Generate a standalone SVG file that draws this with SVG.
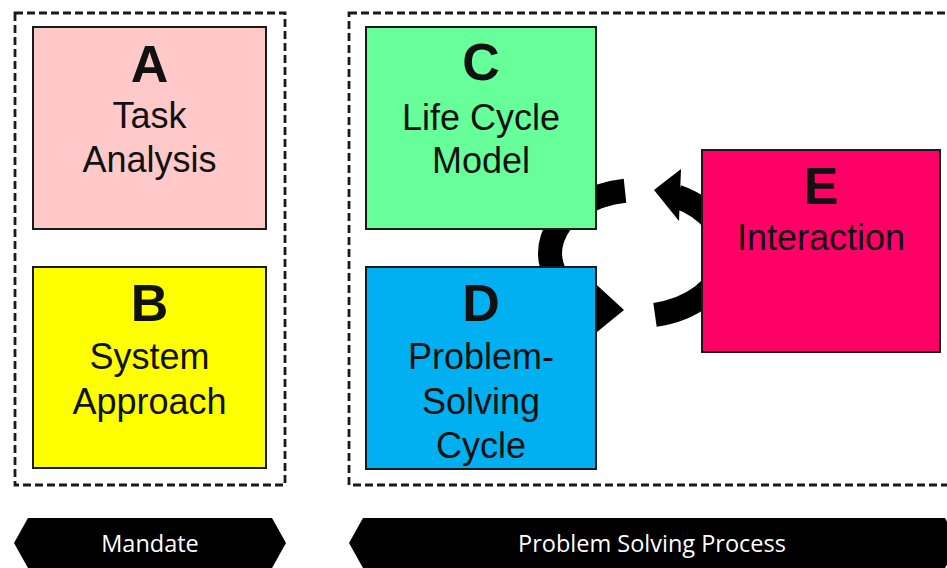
<svg xmlns="http://www.w3.org/2000/svg" width="947" height="568" viewBox="0 0 947 568">
  <style>
    .group-frame { fill: none; stroke: #1a1a1a; stroke-width: 2.8; stroke-dasharray: 8 4; }
    .box { stroke: #1a1a1a; stroke-width: 2; }
    .letter { font-family: "Liberation Sans", Arial, sans-serif; font-weight: bold; font-size: 52px; fill: #111; text-anchor: middle; }
    .label { font-family: "Liberation Sans", Arial, sans-serif; font-size: 36px; fill: #111; text-anchor: middle; }
    .band { fill: #000; }
    .band-text { font-family: "Open Sans", "Noto Sans", sans-serif; font-size: 23.5px; fill: #fff; text-anchor: middle; }
    .cycle { fill: none; stroke: #000; stroke-width: 24; stroke-linecap: butt; }
    .head { fill: #000; }
  </style>

  <rect width="947" height="568" fill="#fff"/>

  <!-- dashed grouping frames -->
  <g id="frame-mandate">
    <rect class="group-frame" x="15" y="13" width="270" height="472"/>
  </g>
  <g id="frame-process">
    <rect class="group-frame" x="349" y="13" width="610" height="472"/>
  </g>

  <!-- cyclic arrows between C, D and E (drawn under the boxes) -->
  <g id="connectors">
    <!-- E back up to C: arc round the right side, head pointing left -->
    <path class="cycle" d="M 655 314.8 A 88 63 0 0 0 677 196.5"/>
    <polygon class="head" points="654,190 681,169 679,221"/>
    <!-- C down to D and on towards E: arc round the left side, head pointing right -->
    <path class="cycle" d="M 625 190.7 A 88 63 0 0 0 588 304.8"/>
    <polygon class="head" points="624,310 586,275 586,341"/>
  </g>

  <g id="node-a">
    <rect class="box" x="33" y="27" width="233" height="202" fill="#ffc9c9"/>
    <text class="letter" x="149.5" y="82">A</text>
    <text class="label" x="149.5" y="128">Task</text>
    <text class="label" x="149.5" y="172">Analysis</text>
  </g>

  <g id="node-b">
    <rect class="box" x="33" y="267" width="233" height="201" fill="#ffff00"/>
    <text class="letter" x="149.5" y="321">B</text>
    <text class="label" x="149.5" y="369">System</text>
    <text class="label" x="149.5" y="414">Approach</text>
  </g>

  <g id="node-c">
    <rect class="box" x="366" y="27" width="230" height="202" fill="#66ff99"/>
    <text class="letter" x="481" y="80">C</text>
    <text class="label" x="481" y="130">Life Cycle</text>
    <text class="label" x="481" y="173">Model</text>
  </g>

  <g id="node-d">
    <rect class="box" x="366" y="267" width="230" height="202" fill="#00b0f0"/>
    <text class="letter" x="481" y="321">D</text>
    <text class="label" x="481" y="369">Problem-</text>
    <text class="label" x="481" y="414">Solving</text>
    <text class="label" x="481" y="458">Cycle</text>
  </g>

  <g id="node-e">
    <rect class="box" x="702" y="150" width="238" height="202" fill="#ff0066"/>
    <text class="letter" x="821" y="204">E</text>
    <text class="label" x="821" y="250">Interaction</text>
  </g>

  <!-- caption bands -->
  <g id="band-mandate">
    <polygon class="band" points="14,543 28,518 272,518 286,543 272,568 28,568"/>
    <text class="band-text" x="150" y="552">Mandate</text>
  </g>
  <g id="band-process">
    <polygon class="band" points="349,543 363,518 945,518 959,543 945,568 363,568"/>
    <text class="band-text" x="652" y="552">Problem Solving Process</text>
  </g>
</svg>
